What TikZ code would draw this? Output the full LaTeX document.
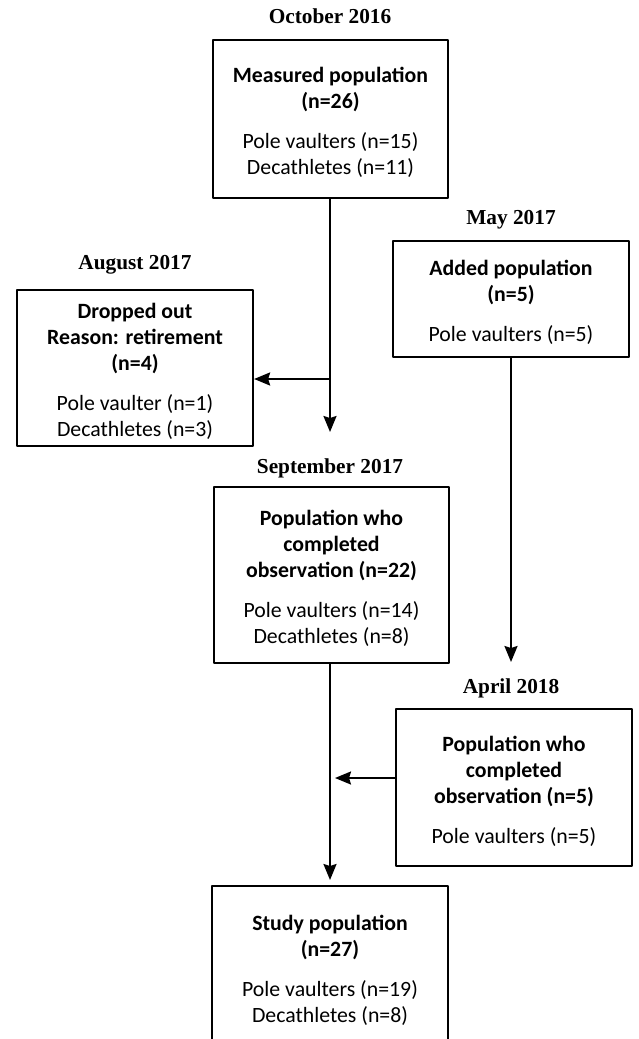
\documentclass[tikz,border=0pt]{standalone}
\usepackage{fontspec}
\setmainfont{Carlito}
\newfontfamily\datefont{Liberation Serif}
\usetikzlibrary{arrows.meta}
% extra room above the first line of a box
\newcommand{\toproom}{\rule{0pt}{23pt}}

\begin{document}
\begin{tikzpicture}[x=1pt, y=-1pt, line join=round,
  box/.style={draw, line width=2.2pt, align=center, inner sep=0pt,
    font=\fontsize{21.8}{26}\selectfont},
  datelabel/.style={font=\datefont\bfseries\fontsize{21.3}{24}\selectfont},
  flow/.style={line width=2.2pt, -{Stealth[length=16pt, width=13pt, inset=2pt]}}]
% page size of the reference
\useasboundingbox (0,0) rectangle (638,1039);
\clip (0,0) rectangle (638,1039);

% dates
\node[datelabel] (octdate) at (330,16) {October 2016};
\node[datelabel] (maydate) at (511,220) {May 2017};
\node[datelabel] (augdate) at (135,265) {August 2017};
\node[datelabel] (sepdate) at (330,468) {September 2017};
\node[datelabel] (aprdate) at (511,688) {April 2018};

% boxes
\node[box, minimum width=235pt, minimum height=158pt] (measured) at (330.5,119)
  {\toproom\textbf{Measured population}\\\textbf{(n=26)}\\[14pt]Pole vaulters (n=15)\\Decathletes (n=11)};
\node[box, minimum width=236pt, minimum height=116pt] (added) at (511,299)
  {\toproom\textbf{Added population}\\\textbf{(n=5)}\\[14pt]Pole vaulters (n=5)};
\node[box, minimum width=236pt, minimum height=156pt] (dropped) at (135,368)
  {\toproom\textbf{Dropped out}\\\textbf{Reason: retirement}\\\textbf{(n=4)}\\[14pt]Pole vaulter (n=1)\\Decathletes (n=3)};
\node[box, minimum width=235pt, minimum height=176pt] (completed) at (331.5,575)
  {\toproom\textbf{Population who}\\\textbf{completed}\\\textbf{observation (n=22)}\\[14pt]Pole vaulters (n=14)\\Decathletes (n=8)};
\node[box, minimum width=236pt, minimum height=157pt] (completedadd) at (514,787.5)
  {\toproom\textbf{Population who}\\\textbf{completed}\\\textbf{observation (n=5)}\\[14pt]Pole vaulters (n=5)};
\node[box, minimum width=236pt, minimum height=160pt] (study) at (330,966)
  {\toproom\textbf{Study population}\\\textbf{(n=27)}\\[14pt]Pole vaulters (n=19)\\Decathletes (n=8)};

% arrow ends and junctions
\coordinate (tipsep) at (330,432);
\coordinate (splitaug) at (330,379);
\coordinate (tipapr) at (511,662);
\coordinate (tipstudy) at (330,880);
\coordinate (joinapr) at (335,778);

% connectors
\draw[flow] (measured.south -| tipsep) -- (tipsep);
\draw[flow] (splitaug) -- (dropped.east |- splitaug);
\draw[flow] (added.south -| tipapr) -- (tipapr);
\draw[flow] (completed.south -| tipstudy) -- (tipstudy);
\draw[flow] (completedadd.west |- joinapr) -- (joinapr);

\end{tikzpicture}
\end{document}
